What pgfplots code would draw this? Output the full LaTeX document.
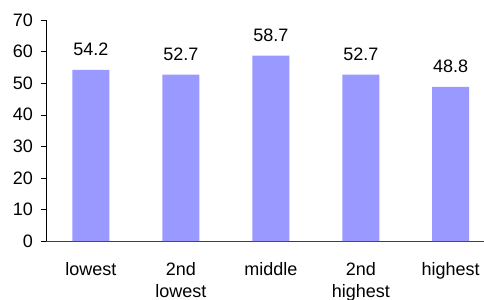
\documentclass[border=0pt]{standalone}
\usepackage{fontspec}
\setmainfont{Liberation Sans}
\usepackage{pgfplots}
\pgfplotsset{compat=1.18}
\definecolor{barblue}{HTML}{9999FF}
\begin{document}
\fontsize{18bp}{22bp}\selectfont
\begin{tikzpicture}
\path[use as bounding box] (-46bp,-59bp) rectangle (438bp,241bp);
\begin{axis}[
  at={(0,0)}, anchor=south west,
  scale only axis,
  width=438bp, height=221bp,
  xmin=-0.5, xmax=4.37,
  ymin=0, ymax=70,
  ytick={0,10,...,70},
  xtick={0,1,2,3,4},
  xticklabels={lowest,{2nd\\lowest},middle,{2nd\\highest},highest},
  axis x line=bottom, axis y line=left,
  axis line style={-, black},
  x axis line style={draw=black!75},
  tick align=outside,
  major tick length=5bp,
  x tick style={draw=none},
  y tick style={black},
  /pgf/number format/assume math mode=true,
  tick label style={font=\fontsize{18bp}{22bp}\selectfont},
  yticklabel style={xshift=-2bp},
  xticklabel style={align=center, yshift=-10.5bp},
  ybar, bar width=37bp, bar shift=0pt,
  nodes near coords,
  nodes near coords style={font=\fontsize{18bp}{22bp}\selectfont, yshift=8bp,
    /pgf/number format/fixed, /pgf/number format/precision=1,
    /pgf/number format/fixed zerofill, /pgf/number format/assume math mode=true},
  clip=false,
]
\addplot[fill=barblue, draw=none] coordinates {(0,54.2) (1,52.7) (2,58.7) (3,52.7) (4,48.8)};
\end{axis}
\end{tikzpicture}
\end{document}
